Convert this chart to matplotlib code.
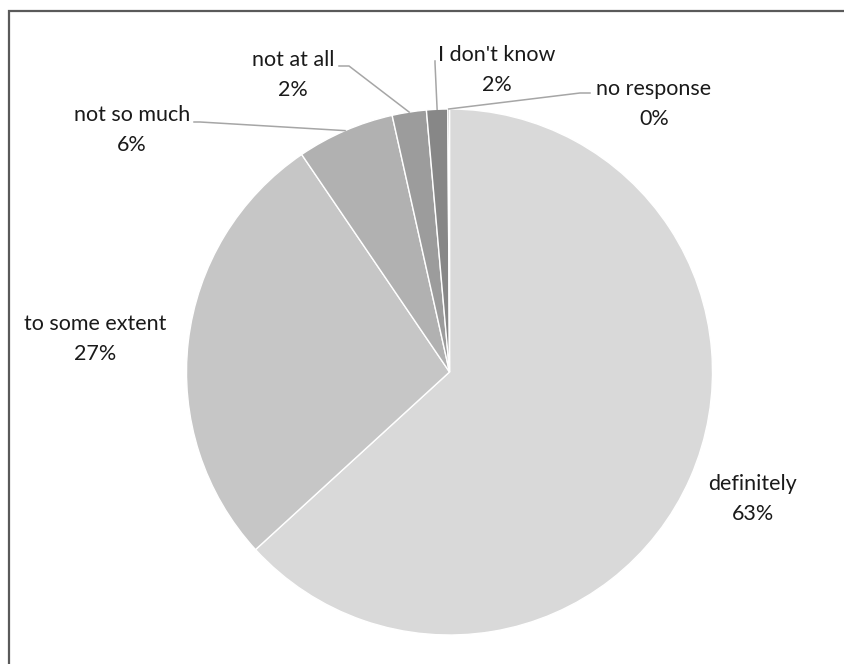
import numpy as np
import matplotlib.pyplot as plt
from matplotlib.patches import Rectangle

# data
categories = ["definitely", "to some extent", "not so much", "not at all", "I don't know", "no response"]
values = [63.2, 27.3, 6.0, 2.1, 1.3, 0.1]
pct_labels = ["63%", "27%", "6%", "2%", "2%", "0%"]
colors = ["#d9d9d9", "#c6c6c6", "#b1b1b1", "#9c9c9c", "#878787", "#737373"]

W, H = 845, 664
cx, cy, r = 449.5, H - 372, 263

# label centre (x, y in pixels from top) and where the leader line starts
label_pos = [(753, 499), (95, 339), (132, 130), (293, 75), (497, 70), (654, 104)]
leader_start = [None, None, (194, 122), (339, 66), (435, 61), (590, 93)]
leader_elbow = [None, None, (200, 122), (349, 66), (435, 63), (580, 93)]

plt.rcParams['font.family'] = ['Lato', 'DejaVu Sans']

fig = plt.figure(figsize=(W / 100, H / 100), dpi=100)
ax = fig.add_axes([0, 0, 1, 1])

wedges, _ = ax.pie(values, colors=colors, startangle=90, counterclock=False,
                   center=(cx, cy), radius=r,
                   wedgeprops=dict(edgecolor='white', linewidth=1.0))
# pie() resets the limits, so set the pixel frame afterwards
ax.set_xlim(0, W)
ax.set_ylim(0, H)
ax.set_aspect('equal')
ax.axis('off')

for i, w in enumerate(wedges):
    lx, ly = label_pos[i]
    ax.text(lx, H - ly, categories[i] + "\n" + pct_labels[i], ha='center', va='center',
            fontsize=15.5, color='#1a1a1a', linespacing=1.6)
    if leader_start[i] is not None:
        mid = np.deg2rad((w.theta1 + w.theta2) / 2)
        ex, ey = cx + r * np.cos(mid), cy + r * np.sin(mid)
        sx, sy = leader_start[i]
        bx, by = leader_elbow[i]
        ax.plot([sx, bx, ex], [H - sy, H - by, ey], color='#a6a6a6', lw=1.1,
                solid_joinstyle='miter')

# chart frame, cut off at the right and bottom
frame = Rectangle((9.5, -20), W, H - 10 + 20 - 0.5, fill=False, edgecolor='#5a5a5a',
                  linewidth=1.6, clip_on=False)
ax.add_patch(frame)

fig.savefig("out.png", dpi=100)
